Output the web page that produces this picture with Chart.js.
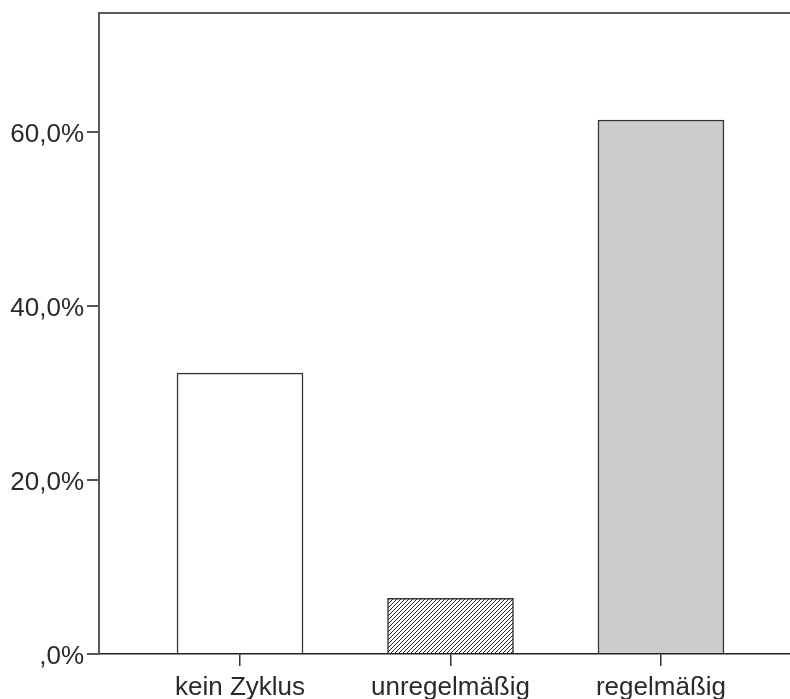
<!DOCTYPE html>
<html>
<head>
<meta charset="utf-8">
<script src="https://cdn.jsdelivr.net/npm/chart.js@4"></script>
<style>
  html, body { margin: 0; padding: 0; background: #fff; }
  #wrap { width: 790px; height: 699px; }
</style>
</head>
<body>
<div id="wrap"><canvas id="grafico"></canvas></div>
<script>
// dados
const categories = ['kein Zyklus', 'unregelmäßig', 'regelmäßig'];
const percentValues = [32.3, 6.4, 61.4];
const yTickValues = [0, 20, 40, 60];
const yTickLabels = [',0%', '20,0%', '40,0%', '60,0%'];

// padrão hachurado para a barra do meio
function makeHatch() {
    const c = document.createElement('canvas');
    c.width = 4; c.height = 4;
    const g = c.getContext('2d');
    g.fillStyle = '#fff';
    g.fillRect(0, 0, 4, 4);
    g.strokeStyle = '#222';
    g.lineWidth = 1;
    g.beginPath();
    g.moveTo(-1, 5); g.lineTo(5, -1);
    g.moveTo(-1, 1); g.lineTo(1, -1);
    g.moveTo(3, 5); g.lineTo(5, 3);
    g.stroke();
    return g.createPattern(c, 'repeat');
}

// linha superior do quadro
const topBorder = {
    id: 'topBorder',
    afterDraw(chart) {
        const { ctx, chartArea } = chart;
        ctx.save();
        ctx.strokeStyle = '#5a5a5a';
        ctx.lineWidth = 2;
        ctx.beginPath();
        ctx.moveTo(chartArea.left - 1, chartArea.top);
        ctx.lineTo(chartArea.right, chartArea.top);
        ctx.stroke();
        ctx.restore();
    }
};

const font = { family: '"Liberation Sans", Arial, sans-serif', size: 26 };

const ctx = document.getElementById('grafico').getContext('2d');
const myChart = new Chart(ctx, {
    type: 'bar',
    data: {
        datasets: [{
            data: percentValues.map((v, i) => ({ x: i, y: v })),
            backgroundColor: ['#ffffff', makeHatch(), '#cccccc'],
            borderColor: '#333',
            borderWidth: 1.5,
            borderSkipped: 'bottom',
            barThickness: 126
        }]
    },
    options: {
        responsive: true,
        maintainAspectRatio: false,
        animation: false,
        layout: { padding: { top: 13, left: 0, right: 0, bottom: 0 } },
        plugins: { legend: { display: false }, tooltip: { enabled: false } },
        scales: {
            x: {
                type: 'linear',
                offset: false,
                min: -0.67,
                max: 2.613,
                afterBuildTicks: scale => {
                    scale.ticks = categories.map((c, i) => ({ value: i }));
                },
                afterFit: scale => {
                    scale.height = 45;
                    scale.paddingLeft = 0;
                    scale.paddingRight = 0;
                },
                ticks: {
                    callback: v => categories[v],
                    color: '#2a2a2a',
                    font: font,
                    padding: 6,
                    maxRotation: 0,
                    autoSkip: false
                },
                grid: { offset: false, drawOnChartArea: false, tickLength: 12, color: '#333', lineWidth: 1.5 },
                border: { color: '#222', width: 1.5 }
            },
            y: {
                min: 0,
                max: 73.7,
                afterBuildTicks: scale => {
                    scale.ticks = yTickValues.map(v => ({ value: v }));
                },
                afterFit: scale => {
                    scale.width = 99;
                    scale.paddingTop = 0;
                    scale.paddingBottom = 0;
                },
                ticks: {
                    callback: v => yTickLabels[yTickValues.indexOf(v)],
                    color: '#2a2a2a',
                    font: font,
                    padding: 3,
                    labelOffset: 3
                },
                grid: { drawOnChartArea: false, tickLength: 12, color: '#555', lineWidth: 2 },
                border: { color: '#5a5a5a', width: 2 }
            }
        }
    },
    plugins: [topBorder]
});
</script>
</body>
</html>
